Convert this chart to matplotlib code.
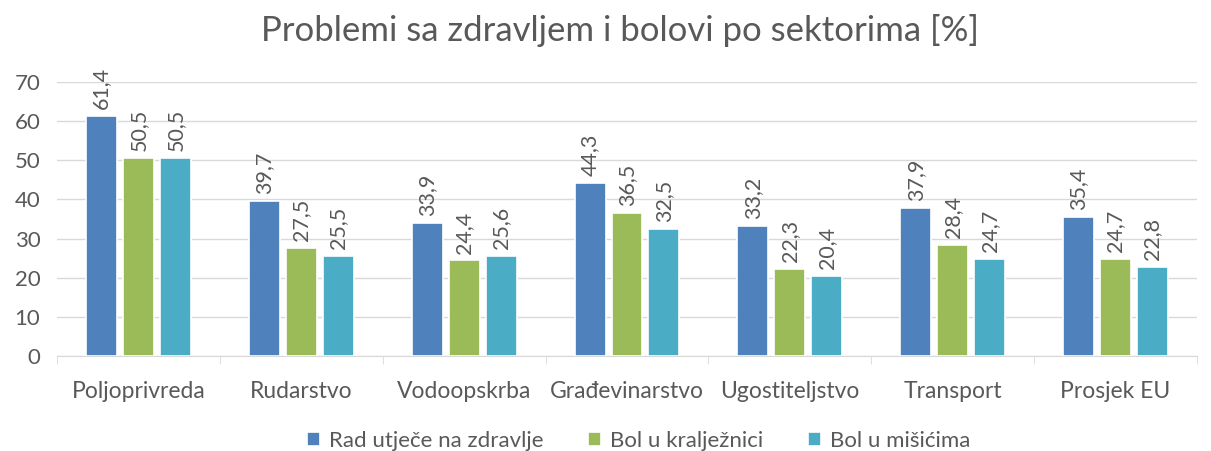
import numpy as np
import matplotlib.pyplot as plt

plt.rcParams['font.family'] = ['Lato', 'DejaVu Sans']

sectors = ['Poljoprivreda', 'Rudarstvo', 'Vodoopskrba', 'Građevinarstvo',
           'Ugostiteljstvo', 'Transport', 'Prosjek EU']
rad_zdravlje = [61.4, 39.7, 33.9, 44.3, 33.2, 37.9, 35.4]
bol_kraljeznica = [50.5, 27.5, 24.4, 36.5, 22.3, 28.4, 24.7]
bol_misici = [50.5, 25.5, 25.6, 32.5, 20.4, 24.7, 22.8]
series_names = ['Rad utječe na zdravlje', 'Bol u kralježnici', 'Bol u mišićima']
colors = ['#4F81BD', '#9BBB59', '#4BACC6']
txt = '#595959'

fig = plt.figure(figsize=(12.11, 4.51), dpi=100)
ax = fig.add_axes([57/1211, 95/451, 1140/1211, 274/451])

x = np.arange(len(sectors))
step = 0.227
for i, (vals, name, c) in enumerate(zip([rad_zdravlje, bol_kraljeznica, bol_misici], series_names, colors)):
    pos = x + (i - 1) * step
    ax.bar(pos, vals, width=0.19, color=c, edgecolor='white', linewidth=1.2, label=name, zorder=3)
    for p, v in zip(pos, vals):
        ax.annotate(f'{v:.1f}'.replace('.', ','), (p, v), xytext=(0, 5), textcoords='offset points',
                    rotation=90, ha='center', va='bottom', fontsize=15.5, color=txt)

ax.set_xlim(-0.5, len(sectors) - 0.5)
ax.set_ylim(0, 70)
ax.set_yticks(range(0, 71, 10))
ax.grid(axis='y', color='#D9D9D9', linewidth=1, zorder=0)
for s in ['top', 'right', 'left']:
    ax.spines[s].set_visible(False)
ax.spines['bottom'].set_color('#D9D9D9')
ax.set_xticks(x)
ax.set_xticklabels(sectors)
ax.tick_params(axis='y', length=0, labelsize=16, labelcolor=txt, pad=12)
ax.tick_params(axis='x', length=0, labelsize=16.5, labelcolor=txt, pad=18)
ax.set_xticks(np.arange(-0.5, len(sectors)), minor=True)
ax.tick_params(axis='x', which='minor', length=6, color='#D9D9D9')

fig.suptitle('Problemi sa zdravljem i bolovi po sektorima [%]', fontsize=25, color=txt,
             x=0.512, y=0.97)
ax.legend(loc='lower center', bbox_to_anchor=(0.51, -0.42), ncol=3, frameon=False,
          fontsize=16, labelcolor=txt, handlelength=0.6, handleheight=0.6, columnspacing=2.0,
          handletextpad=0.4)

fig.savefig('out.png', dpi=100)
